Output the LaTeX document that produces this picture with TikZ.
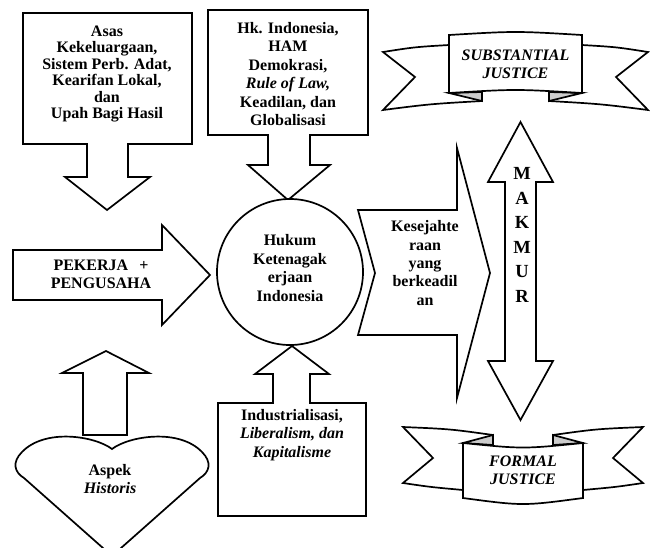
\documentclass[tikz,border=0pt]{standalone}
\usepackage{fontspec}
\setmainfont{Liberation Serif}
\begin{document}
\begin{tikzpicture}[x=1pt, y=-1pt, line width=1.7pt, line join=miter,
  blockarrow/.style={draw, fill=white},
  fold/.style={draw, fill=black!20},
  txt/.style={align=center, inner sep=0pt, font=\bfseries\fontsize{16}{18.4}\selectfont}]
  \clip (0,0) rectangle (650,547);
  % Top left: box with arrow down
  \draw[blockarrow] (23,13) -- (192,13) -- (192,144) -- (128,144) -- (128,177) -- (150,177)
    -- (107,210) -- (65,177) -- (87,177) -- (87,144) -- (23,144) -- cycle;
  % Top middle: box with arrow down onto the circle
  \draw[blockarrow] (208,10) -- (368,10) -- (368,135) -- (310,135) -- (310,165) -- (330,165)
    -- (288,200) -- (248,165) -- (268,165) -- (268,135) -- (208,135) -- cycle;
  % Centre circle
  \draw[blockarrow] (290,272) circle (73);
  % Left arrow pointing right
  \draw[blockarrow] (13,250) -- (162,250) -- (162,225) -- (210,275) -- (162,325) -- (162,300)
    -- (13,300) -- cycle;
  % Chevron arrow
  \draw[blockarrow] (358,210) -- (457,210) -- (457,148) -- (490,273) -- (457,398) -- (457,335)
    -- (358,335) -- (375,273) -- cycle;
  % Double arrow
  \draw[blockarrow] (520.5,122) -- (553,182) -- (536,182) -- (536,361) -- (553,361) -- (520.5,420)
    -- (488,361) -- (505,361) -- (505,182) -- (488,182) -- cycle;
  % Heart and arrow up
  \draw[blockarrow] (112,449) .. controls (95,436) and (45,428) .. (22,452)
    .. controls (12,462) and (14,472) .. (24,478) -- (112,556) -- (200,478)
    .. controls (210,472) and (212,462) .. (202,452)
    .. controls (179,428) and (129,436) .. (112,449) -- cycle;
  \draw[blockarrow] (106,351) -- (149,373) -- (127,373) -- (127,435) -- (83,435) -- (83,373)
    -- (62,373) -- cycle;
  % Bottom middle: box with arrow up onto the circle
  \draw[blockarrow] (292,346) -- (329,374) -- (310,374) -- (310,403) -- (366,403) -- (366,516)
    -- (218,516) -- (218,403) -- (273,403) -- (273,374) -- (255,374) -- cycle;
  % Top ribbon
  \draw[blockarrow] (449,45) .. controls (415,47) .. (383,52) -- (415,77) -- (383,110)
    .. controls (430,104) .. (482,101) -- (482,92) -- (460,60) -- cycle;
  \draw[blockarrow] (582,45) .. controls (616,47) .. (648,52) -- (616,77) -- (648,110)
    .. controls (601,104) .. (549,101) -- (549,92) -- (571,60) -- cycle;
  \draw[fold] (449,93) -- (482,101) -- (482,92) -- cycle;
  \draw[fold] (582,93) -- (549,101) -- (549,92) -- cycle;
  \draw[blockarrow] (449,35) .. controls (515.5,31) .. (582,35) -- (582,93)
    .. controls (515.5,89) .. (449,93) -- cycle;
  % Bottom ribbon
  \draw[blockarrow] (493,435) .. controls (450,429) .. (403,427) -- (433,458) -- (403,483)
    .. controls (430,487) .. (463,490) -- (480,490) -- (493,445) -- cycle;
  \draw[blockarrow] (553,435) .. controls (596,429) .. (643,427) -- (613,458) -- (643,483)
    .. controls (616,487) .. (583,490) -- (566,490) -- (553,445) -- cycle;
  \draw[fold] (463,443) -- (493,435) -- (493,445) -- cycle;
  \draw[fold] (583,443) -- (553,435) -- (553,445) -- cycle;
  \draw[blockarrow] (463,443) .. controls (523,449) .. (583,443) -- (583,498)
    .. controls (523,506) .. (463,498) -- cycle;
  % Labels
  \node[txt, font=\bfseries\fontsize{16}{16.5}\selectfont] (asas) at (107,74)
    {Asas\\Kekeluargaan,\\Sistem Perb. Adat,\\Kearifan Lokal,\\dan\\Upah Bagi Hasil};
  \node[txt] (hk) at (288,74)
    {Hk. Indonesia,\\HAM\\Demokrasi,\\\textit{Rule of Law,}\\Keadilan, dan\\Globalisasi};
  \node[txt] (hukum) at (290,268) {Hukum\\Ketenagak\\erjaan\\Indonesia};
  \node[txt] (pekerja) at (101,274) {PEKERJA\hspace{0.7em}+\\PENGUSAHA};
  \node[txt] (sejahtera) at (425,263) {Kesejahte\\raan\\yang\\berkeadil\\an};
  \node[txt, font=\bfseries\fontsize{18.5}{24.5}\selectfont] (makmur) at (522,235)
    {M\\A\\K\\M\\U\\R};
  \node[txt] (aspek) at (110,479) {Aspek\\\textit{Historis}};
  \node[txt] (industri) at (292,435)
    {Industrialisasi,\\\textit{Liberalism, dan}\\\textit{Kapitalisme}};
  \node[txt, font=\bfseries\itshape\fontsize{16}{18.4}\selectfont] (substantial) at (515.5,64)
    {SUBSTANTIAL\\JUSTICE};
  \node[txt, font=\bfseries\itshape\fontsize{16}{18.4}\selectfont] (formal) at (523,470)
    {FORMAL\\JUSTICE};
\end{tikzpicture}
\end{document}
